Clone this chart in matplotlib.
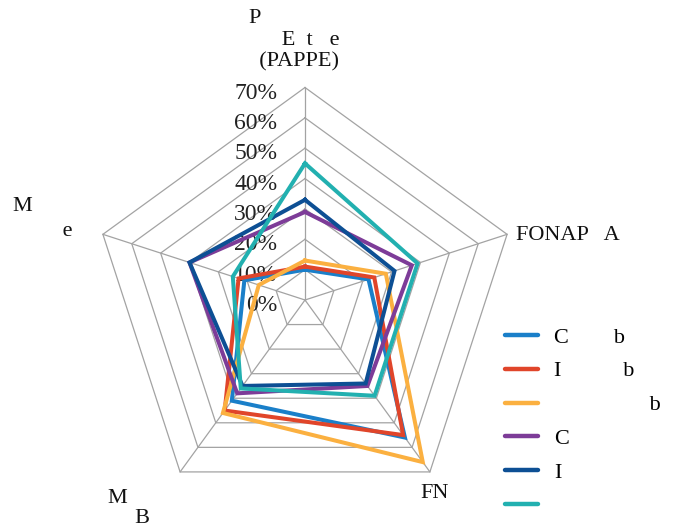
import numpy as np
import matplotlib
matplotlib.use("Agg")
import matplotlib.pyplot as plt

plt.rcParams['font.family'] = ['Liberation Serif', 'DejaVu Serif']

# Radar axes, clockwise from the top
axis_labels = ["P\n      E  t   e\n  (PAPPE)", "FONAP   A", "FN", "M\n     B", "M\n         e"]

# Series values (percent)
series_names = ["C        b", "I           b", "                 b", "C", "I", " "]
vals_c_b = [10, 22, 56, 41, 21]
vals_i_b = [11, 24, 55, 45, 23]
vals_x_b = [13, 28, 66, 46, 16]
vals_c = [29, 37, 35, 38, 40]
vals_i = [33, 31, 34, 35, 40]
vals_x = [45, 39, 39, 36, 25]
series_values = [vals_c_b, vals_i_b, vals_x_b, vals_c, vals_i, vals_x]
series_colors = ["#1a7fc9", "#e0452a", "#fbb040", "#7d3c98", "#0d4f94", "#22b0b0"]

ring_levels = [10, 20, 30, 40, 50, 60, 70]
tick_labels = ["0%", "10%", "20%", "30%", "40%", "50%", "60%", "70%"]

W, H = 683, 527
fig = plt.figure(figsize=(W / 100, H / 100), dpi=100)
cx, cy, R = 305, 300, 212.5
ax = fig.add_axes([(cx - R) / W, (H - cy - R) / H, 2 * R / W, 2 * R / H], projection="polar")
ax.set_theta_offset(np.pi / 2)
ax.set_theta_direction(-1)
ax.set_ylim(0, 70)
ax.set_facecolor("none")
ax.spines["polar"].set_visible(False)
ax.grid(False)
ax.set_xticks([])
ax.set_yticks([])

n = len(axis_labels)
theta = np.arange(n) * 2 * np.pi / n
theta_closed = np.append(theta, theta[0])

grid_color = "#a3a3a3"
# pentagon rings
for r in ring_levels:
    ax.plot(theta_closed, [r] * (n + 1), color=grid_color, lw=0.9, zorder=1, clip_on=False)
# spokes
for t in theta:
    ax.plot([t, t], [0, 70], color=grid_color, lw=0.9, zorder=1, clip_on=False)

# series
for name, vals, col in zip(series_names, series_values, series_colors):
    v = np.append(vals, vals[0])
    ax.plot(theta_closed, v, color=col, lw=2.9, label=name, zorder=3,
            solid_joinstyle="miter", clip_on=False)

# radial tick labels along the top spoke
for r, lab in zip([0] + ring_levels, tick_labels):
    ax.annotate(lab, xy=(0, r), xytext=(-20, -4), textcoords="offset points",
                ha="right", va="center", fontsize=17, color="#222222", zorder=2)

# category labels
fs = 16
fig.text(248 / W, 1 - 9 / H, axis_labels[0], ha="left", va="top", fontsize=fs,
         linespacing=1.2, color="#111111")
fig.text(516 / W, 1 - 235 / H, axis_labels[1], ha="left", va="center", fontsize=fs, color="#111111")
fig.text(420 / W, 1 - 494 / H, axis_labels[2], ha="left", va="center", fontsize=fs, color="#111111")
fig.text(107 / W, 1 - 489 / H, axis_labels[3], ha="left", va="top", fontsize=fs,
         linespacing=1.05, color="#111111")
fig.text(12 / W, 1 - 197 / H, axis_labels[4], ha="left", va="top", fontsize=fs,
         linespacing=1.45, color="#111111")

leg = fig.legend(loc="upper left", bbox_to_anchor=(505 / W, 1 - 327 / H), frameon=False,
                 fontsize=fs, handlelength=1.5, handletextpad=0.7, labelspacing=0.6,
                 borderaxespad=0, borderpad=0)
for h in leg.get_lines():
    h.set_linewidth(3.2)
    h.set_solid_capstyle("round")

fig.savefig("out.png", dpi=100)
